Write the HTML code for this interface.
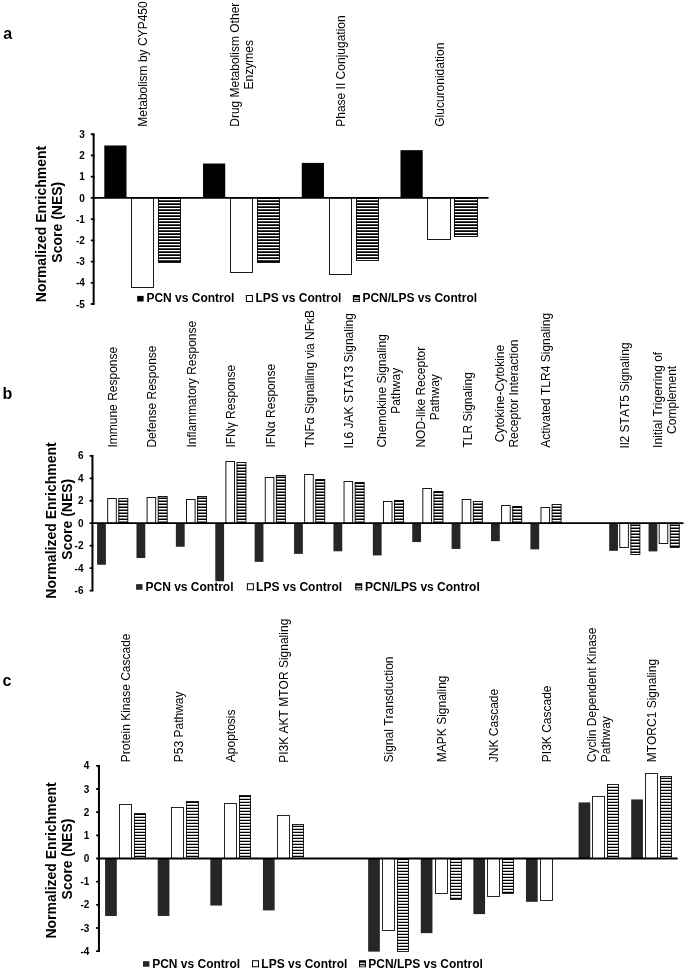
<!DOCTYPE html>
<html lang="en"><head><meta charset="utf-8"><title>Normalized Enrichment Score figure</title>
<style>html,body{margin:0;padding:0;background:#fff}svg{display:block}text{font-family:"Liberation Sans", sans-serif;fill:#000;font-kerning:none}.b{font-weight:bold}</style>
</head><body>
<svg width="685" height="971" viewBox="0 0 685 971">
<rect x="0" y="0" width="685" height="971" fill="#fff"/>
<g id="panel-a">
<text class="b" x="3.3" y="39" font-size="16">a</text>
<rect x="104.3" y="145.49" width="22.2" height="52.41" fill="#000000"/>
<rect x="131.5" y="197.9" width="22" height="89.6" fill="#fff" stroke="#000" stroke-width="0.9"/>
<rect x="158.5" y="197.9" width="22" height="64.6" fill="#fff"/>
<path d="M158.5 198.15h22M158.5 201.15h22M158.5 204.15h22M158.5 207.15h22M158.5 210.15h22M158.5 213.15h22M158.5 216.15h22M158.5 219.15h22M158.5 222.15h22M158.5 225.15h22M158.5 228.15h22M158.5 231.15h22M158.5 234.15h22M158.5 237.15h22M158.5 240.15h22M158.5 243.15h22M158.5 246.15h22M158.5 249.15h22M158.5 252.15h22M158.5 255.15h22M158.5 258.15h22M158.5 261.15h22" stroke="#000" stroke-width="1.75" fill="none"/>
<rect x="158.5" y="197.9" width="22" height="64.6" fill="none" stroke="#000" stroke-width="0.9"/>
<rect x="203.03" y="163.52" width="22.2" height="34.38" fill="#000000"/>
<rect x="230.5" y="197.9" width="22" height="74.6" fill="#fff" stroke="#000" stroke-width="0.9"/>
<rect x="257.5" y="197.9" width="22" height="64.6" fill="#fff"/>
<path d="M257.5 198.15h22M257.5 201.15h22M257.5 204.15h22M257.5 207.15h22M257.5 210.15h22M257.5 213.15h22M257.5 216.15h22M257.5 219.15h22M257.5 222.15h22M257.5 225.15h22M257.5 228.15h22M257.5 231.15h22M257.5 234.15h22M257.5 237.15h22M257.5 240.15h22M257.5 243.15h22M257.5 246.15h22M257.5 249.15h22M257.5 252.15h22M257.5 255.15h22M257.5 258.15h22M257.5 261.15h22" stroke="#000" stroke-width="1.75" fill="none"/>
<rect x="257.5" y="197.9" width="22" height="64.6" fill="none" stroke="#000" stroke-width="0.9"/>
<rect x="301.76" y="162.89" width="22.2" height="35.01" fill="#000000"/>
<rect x="329.5" y="197.9" width="22" height="76.6" fill="#fff" stroke="#000" stroke-width="0.9"/>
<rect x="356.5" y="197.9" width="22" height="62.6" fill="#fff"/>
<path d="M356.5 198.15h22M356.5 201.15h22M356.5 204.15h22M356.5 207.15h22M356.5 210.15h22M356.5 213.15h22M356.5 216.15h22M356.5 219.15h22M356.5 222.15h22M356.5 225.15h22M356.5 228.15h22M356.5 231.15h22M356.5 234.15h22M356.5 237.15h22M356.5 240.15h22M356.5 243.15h22M356.5 246.15h22M356.5 249.15h22M356.5 252.15h22M356.5 255.15h22M356.5 258.15h22" stroke="#000" stroke-width="1.75" fill="none"/>
<rect x="356.5" y="197.9" width="22" height="62.6" fill="none" stroke="#000" stroke-width="0.9"/>
<rect x="400.49" y="150.16" width="22.2" height="47.75" fill="#000000"/>
<rect x="427.5" y="197.9" width="23" height="41.6" fill="#fff" stroke="#000" stroke-width="0.9"/>
<rect x="454.5" y="197.9" width="23" height="38.6" fill="#fff"/>
<path d="M454.5 198.15h23M454.5 201.15h23M454.5 204.15h23M454.5 207.15h23M454.5 210.15h23M454.5 213.15h23M454.5 216.15h23M454.5 219.15h23M454.5 222.15h23M454.5 225.15h23M454.5 228.15h23M454.5 231.15h23M454.5 234.15h23" stroke="#000" stroke-width="1.75" fill="none"/>
<rect x="454.5" y="197.9" width="23" height="38.6" fill="none" stroke="#000" stroke-width="0.9"/>
<line x1="93.65" y1="134.24" x2="93.65" y2="304" stroke="#000" stroke-width="2" stroke-linecap="round"/>
<line x1="93.65" y1="197.9" x2="488.57" y2="197.9" stroke="#000" stroke-width="1.7"/>
<line x1="91.55" y1="304" x2="93.65" y2="304" stroke="#000" stroke-width="1.8" stroke-linecap="round"/>
<text class="b" x="84.85" y="307.6" font-size="10" text-anchor="end">-5</text>
<line x1="91.55" y1="282.78" x2="93.65" y2="282.78" stroke="#000" stroke-width="1.8" stroke-linecap="round"/>
<text class="b" x="84.85" y="286.38" font-size="10" text-anchor="end">-4</text>
<line x1="91.55" y1="261.56" x2="93.65" y2="261.56" stroke="#000" stroke-width="1.8" stroke-linecap="round"/>
<text class="b" x="84.85" y="265.16" font-size="10" text-anchor="end">-3</text>
<line x1="91.55" y1="240.34" x2="93.65" y2="240.34" stroke="#000" stroke-width="1.8" stroke-linecap="round"/>
<text class="b" x="84.85" y="243.94" font-size="10" text-anchor="end">-2</text>
<line x1="91.55" y1="219.12" x2="93.65" y2="219.12" stroke="#000" stroke-width="1.8" stroke-linecap="round"/>
<text class="b" x="84.85" y="222.72" font-size="10" text-anchor="end">-1</text>
<line x1="91.55" y1="197.9" x2="93.65" y2="197.9" stroke="#000" stroke-width="1.8" stroke-linecap="round"/>
<text class="b" x="84.85" y="201.5" font-size="10" text-anchor="end">0</text>
<line x1="91.55" y1="176.68" x2="93.65" y2="176.68" stroke="#000" stroke-width="1.8" stroke-linecap="round"/>
<text class="b" x="84.85" y="180.28" font-size="10" text-anchor="end">1</text>
<line x1="91.55" y1="155.46" x2="93.65" y2="155.46" stroke="#000" stroke-width="1.8" stroke-linecap="round"/>
<text class="b" x="84.85" y="159.06" font-size="10" text-anchor="end">2</text>
<line x1="91.55" y1="134.24" x2="93.65" y2="134.24" stroke="#000" stroke-width="1.8" stroke-linecap="round"/>
<text class="b" x="84.85" y="137.84" font-size="10" text-anchor="end">3</text>
<text class="b" transform="translate(46.3 224) rotate(-90)" font-size="14" text-anchor="middle">Normalized Enrichment</text>
<text class="b" transform="translate(62 222.2) rotate(-90)" font-size="14" text-anchor="middle">Score (NES)</text>
<text transform="translate(147.32 64.05) rotate(-90)" font-size="12" text-anchor="middle">Metabolism by CYP450</text>
<text transform="translate(239.05 64.73) rotate(-90)" font-size="12" text-anchor="middle">Drug Metabolism Other</text>
<text transform="translate(253.05 64.73) rotate(-90)" font-size="12" text-anchor="middle">Enzymes</text>
<text transform="translate(344.78 71.04) rotate(-90)" font-size="12" text-anchor="middle">Phase II Conjugation</text>
<text transform="translate(443.51 84.72) rotate(-90)" font-size="12" text-anchor="middle">Glucuronidation</text>
<rect x="137.2" y="295.9" width="6.4" height="5.6" fill="#000000"/>
<rect x="246.4" y="295.5" width="6" height="6" fill="#fff" stroke="#000" stroke-width="1"/>
<rect x="352.9" y="295" width="7" height="7" fill="#000"/>
<rect x="353.95" y="297.4" width="4.9" height="1.5" fill="#ddd"/>
<rect x="353.95" y="300.1" width="4.9" height="1.1" fill="#fff"/>
<text class="b" x="146.4" y="302.45" font-size="12">PCN vs Control</text>
<text class="b" x="255.4" y="302.45" font-size="12">LPS vs Control</text>
<text class="b" x="362.4" y="302.45" font-size="12">PCN/LPS vs Control</text>
</g>
<g id="panel-b">
<text class="b" x="2.6" y="398.8" font-size="16">b</text>
<rect x="97.1" y="523.2" width="8.8" height="41.55" fill="#262626"/>
<rect x="107.7" y="498.5" width="8.6" height="24.7" fill="#fff" stroke="#000" stroke-width="0.9"/>
<rect x="118.8" y="498.5" width="9" height="24.7" fill="#fff"/>
<path d="M118.8 501.15h9M118.8 504.15h9M118.8 507.15h9M118.8 510.15h9M118.8 513.15h9M118.8 516.15h9M118.8 519.15h9M118.8 522.15h9" stroke="#000" stroke-width="1.5" fill="none"/>
<rect x="118.8" y="498.5" width="9" height="24.7" fill="none" stroke="#000" stroke-width="0.9"/>
<rect x="136.49" y="523.2" width="8.8" height="34.81" fill="#262626"/>
<rect x="147.09" y="497.5" width="8.6" height="25.7" fill="#fff" stroke="#000" stroke-width="0.9"/>
<rect x="158.19" y="496.5" width="9" height="26.7" fill="#fff"/>
<path d="M158.19 498.15h9M158.19 501.15h9M158.19 504.15h9M158.19 507.15h9M158.19 510.15h9M158.19 513.15h9M158.19 516.15h9M158.19 519.15h9M158.19 522.15h9" stroke="#000" stroke-width="1.5" fill="none"/>
<rect x="158.19" y="496.5" width="9" height="26.7" fill="none" stroke="#000" stroke-width="0.9"/>
<rect x="175.88" y="523.2" width="8.8" height="23.58" fill="#262626"/>
<rect x="186.48" y="499.5" width="8.6" height="23.7" fill="#fff" stroke="#000" stroke-width="0.9"/>
<rect x="197.58" y="496.5" width="9" height="26.7" fill="#fff"/>
<path d="M197.58 498.15h9M197.58 501.15h9M197.58 504.15h9M197.58 507.15h9M197.58 510.15h9M197.58 513.15h9M197.58 516.15h9M197.58 519.15h9M197.58 522.15h9" stroke="#000" stroke-width="1.5" fill="none"/>
<rect x="197.58" y="496.5" width="9" height="26.7" fill="none" stroke="#000" stroke-width="0.9"/>
<rect x="215.27" y="523.2" width="8.8" height="58.06" fill="#262626"/>
<rect x="225.87" y="461.5" width="8.6" height="61.7" fill="#fff" stroke="#000" stroke-width="0.9"/>
<rect x="236.97" y="462.5" width="9" height="60.7" fill="#fff"/>
<path d="M236.97 465.15h9M236.97 468.15h9M236.97 471.15h9M236.97 474.15h9M236.97 477.15h9M236.97 480.15h9M236.97 483.15h9M236.97 486.15h9M236.97 489.15h9M236.97 492.15h9M236.97 495.15h9M236.97 498.15h9M236.97 501.15h9M236.97 504.15h9M236.97 507.15h9M236.97 510.15h9M236.97 513.15h9M236.97 516.15h9M236.97 519.15h9M236.97 522.15h9" stroke="#000" stroke-width="1.5" fill="none"/>
<rect x="236.97" y="462.5" width="9" height="60.7" fill="none" stroke="#000" stroke-width="0.9"/>
<rect x="254.66" y="523.2" width="8.8" height="38.63" fill="#262626"/>
<rect x="265.26" y="477.5" width="8.6" height="45.7" fill="#fff" stroke="#000" stroke-width="0.9"/>
<rect x="276.36" y="475.5" width="9" height="47.7" fill="#fff"/>
<path d="M276.36 477.15h9M276.36 480.15h9M276.36 483.15h9M276.36 486.15h9M276.36 489.15h9M276.36 492.15h9M276.36 495.15h9M276.36 498.15h9M276.36 501.15h9M276.36 504.15h9M276.36 507.15h9M276.36 510.15h9M276.36 513.15h9M276.36 516.15h9M276.36 519.15h9M276.36 522.15h9" stroke="#000" stroke-width="1.5" fill="none"/>
<rect x="276.36" y="475.5" width="9" height="47.7" fill="none" stroke="#000" stroke-width="0.9"/>
<rect x="294.05" y="523.2" width="8.8" height="30.66" fill="#262626"/>
<rect x="304.65" y="474.5" width="8.6" height="48.7" fill="#fff" stroke="#000" stroke-width="0.9"/>
<rect x="315.75" y="479.5" width="9" height="43.7" fill="#fff"/>
<path d="M315.75 480.15h9M315.75 483.15h9M315.75 486.15h9M315.75 489.15h9M315.75 492.15h9M315.75 495.15h9M315.75 498.15h9M315.75 501.15h9M315.75 504.15h9M315.75 507.15h9M315.75 510.15h9M315.75 513.15h9M315.75 516.15h9M315.75 519.15h9M315.75 522.15h9" stroke="#000" stroke-width="1.5" fill="none"/>
<rect x="315.75" y="479.5" width="9" height="43.7" fill="none" stroke="#000" stroke-width="0.9"/>
<rect x="333.44" y="523.2" width="8.8" height="28.08" fill="#262626"/>
<rect x="344.04" y="481.5" width="8.6" height="41.7" fill="#fff" stroke="#000" stroke-width="0.9"/>
<rect x="355.14" y="482.5" width="9" height="40.7" fill="#fff"/>
<path d="M355.14 483.15h9M355.14 486.15h9M355.14 489.15h9M355.14 492.15h9M355.14 495.15h9M355.14 498.15h9M355.14 501.15h9M355.14 504.15h9M355.14 507.15h9M355.14 510.15h9M355.14 513.15h9M355.14 516.15h9M355.14 519.15h9M355.14 522.15h9" stroke="#000" stroke-width="1.5" fill="none"/>
<rect x="355.14" y="482.5" width="9" height="40.7" fill="none" stroke="#000" stroke-width="0.9"/>
<rect x="372.83" y="523.2" width="8.8" height="32.23" fill="#262626"/>
<rect x="383.43" y="501.5" width="8.6" height="21.7" fill="#fff" stroke="#000" stroke-width="0.9"/>
<rect x="394.53" y="500.5" width="9" height="22.7" fill="#fff"/>
<path d="M394.53 501.15h9M394.53 504.15h9M394.53 507.15h9M394.53 510.15h9M394.53 513.15h9M394.53 516.15h9M394.53 519.15h9M394.53 522.15h9" stroke="#000" stroke-width="1.5" fill="none"/>
<rect x="394.53" y="500.5" width="9" height="22.7" fill="none" stroke="#000" stroke-width="0.9"/>
<rect x="412.22" y="523.2" width="8.8" height="18.87" fill="#262626"/>
<rect x="422.82" y="488.5" width="8.6" height="34.7" fill="#fff" stroke="#000" stroke-width="0.9"/>
<rect x="433.92" y="491.5" width="9" height="31.7" fill="#fff"/>
<path d="M433.92 492.15h9M433.92 495.15h9M433.92 498.15h9M433.92 501.15h9M433.92 504.15h9M433.92 507.15h9M433.92 510.15h9M433.92 513.15h9M433.92 516.15h9M433.92 519.15h9M433.92 522.15h9" stroke="#000" stroke-width="1.5" fill="none"/>
<rect x="433.92" y="491.5" width="9" height="31.7" fill="none" stroke="#000" stroke-width="0.9"/>
<rect x="451.61" y="523.2" width="8.8" height="25.72" fill="#262626"/>
<rect x="462.21" y="499.5" width="8.6" height="23.7" fill="#fff" stroke="#000" stroke-width="0.9"/>
<rect x="473.31" y="501.5" width="9" height="21.7" fill="#fff"/>
<path d="M473.31 504.15h9M473.31 507.15h9M473.31 510.15h9M473.31 513.15h9M473.31 516.15h9M473.31 519.15h9M473.31 522.15h9" stroke="#000" stroke-width="1.5" fill="none"/>
<rect x="473.31" y="501.5" width="9" height="21.7" fill="none" stroke="#000" stroke-width="0.9"/>
<rect x="491" y="523.2" width="8.8" height="17.97" fill="#262626"/>
<rect x="501.6" y="505.5" width="8.6" height="17.7" fill="#fff" stroke="#000" stroke-width="0.9"/>
<rect x="512.7" y="506.5" width="9" height="16.7" fill="#fff"/>
<path d="M512.7 507.15h9M512.7 510.15h9M512.7 513.15h9M512.7 516.15h9M512.7 519.15h9M512.7 522.15h9" stroke="#000" stroke-width="1.5" fill="none"/>
<rect x="512.7" y="506.5" width="9" height="16.7" fill="none" stroke="#000" stroke-width="0.9"/>
<rect x="530.39" y="523.2" width="8.8" height="26.17" fill="#262626"/>
<rect x="540.99" y="507.5" width="8.6" height="15.7" fill="#fff" stroke="#000" stroke-width="0.9"/>
<rect x="552.09" y="504.5" width="9" height="18.7" fill="#fff"/>
<path d="M552.09 507.15h9M552.09 510.15h9M552.09 513.15h9M552.09 516.15h9M552.09 519.15h9M552.09 522.15h9" stroke="#000" stroke-width="1.5" fill="none"/>
<rect x="552.09" y="504.5" width="9" height="18.7" fill="none" stroke="#000" stroke-width="0.9"/>
<rect x="609.17" y="523.2" width="8.8" height="27.63" fill="#262626"/>
<rect x="619.77" y="523.2" width="8.6" height="24.3" fill="#fff" stroke="#000" stroke-width="0.9"/>
<rect x="630.87" y="523.2" width="9" height="31.3" fill="#fff"/>
<path d="M630.87 525.15h9M630.87 528.15h9M630.87 531.15h9M630.87 534.15h9M630.87 537.15h9M630.87 540.15h9M630.87 543.15h9M630.87 546.15h9M630.87 549.15h9M630.87 552.15h9" stroke="#000" stroke-width="1.5" fill="none"/>
<rect x="630.87" y="523.2" width="9" height="31.3" fill="none" stroke="#000" stroke-width="0.9"/>
<rect x="648.56" y="523.2" width="8.8" height="28.19" fill="#262626"/>
<rect x="659.16" y="523.2" width="8.6" height="20.3" fill="#fff" stroke="#000" stroke-width="0.9"/>
<rect x="670.26" y="523.2" width="9" height="24.3" fill="#fff"/>
<path d="M670.26 525.15h9M670.26 528.15h9M670.26 531.15h9M670.26 534.15h9M670.26 537.15h9M670.26 540.15h9M670.26 543.15h9M670.26 546.15h9" stroke="#000" stroke-width="1.5" fill="none"/>
<rect x="670.26" y="523.2" width="9" height="24.3" fill="none" stroke="#000" stroke-width="0.9"/>
<line x1="92.45" y1="455.82" x2="92.45" y2="590.58" stroke="#000" stroke-width="2" stroke-linecap="round"/>
<line x1="92.45" y1="523.2" x2="683.5" y2="523.2" stroke="#000" stroke-width="1.8"/>
<line x1="90.35" y1="590.58" x2="92.45" y2="590.58" stroke="#000" stroke-width="1.8" stroke-linecap="round"/>
<text class="b" x="83.5" y="594.18" font-size="10" text-anchor="end">-6</text>
<line x1="90.35" y1="568.12" x2="92.45" y2="568.12" stroke="#000" stroke-width="1.8" stroke-linecap="round"/>
<text class="b" x="83.5" y="571.72" font-size="10" text-anchor="end">-4</text>
<line x1="90.35" y1="545.66" x2="92.45" y2="545.66" stroke="#000" stroke-width="1.8" stroke-linecap="round"/>
<text class="b" x="83.5" y="549.26" font-size="10" text-anchor="end">-2</text>
<line x1="90.35" y1="523.2" x2="92.45" y2="523.2" stroke="#000" stroke-width="1.8" stroke-linecap="round"/>
<text class="b" x="83.5" y="526.8" font-size="10" text-anchor="end">0</text>
<line x1="90.35" y1="500.74" x2="92.45" y2="500.74" stroke="#000" stroke-width="1.8" stroke-linecap="round"/>
<text class="b" x="83.5" y="504.34" font-size="10" text-anchor="end">2</text>
<line x1="90.35" y1="478.28" x2="92.45" y2="478.28" stroke="#000" stroke-width="1.8" stroke-linecap="round"/>
<text class="b" x="83.5" y="481.88" font-size="10" text-anchor="end">4</text>
<line x1="90.35" y1="455.82" x2="92.45" y2="455.82" stroke="#000" stroke-width="1.8" stroke-linecap="round"/>
<text class="b" x="83.5" y="459.42" font-size="10" text-anchor="end">6</text>
<text class="b" transform="translate(55.9 520.5) rotate(-90)" font-size="14" text-anchor="middle">Normalized Enrichment</text>
<text class="b" transform="translate(72 519.2) rotate(-90)" font-size="14" text-anchor="middle">Score (NES)</text>
<text transform="translate(117.05 397.19) rotate(-90)" font-size="12" text-anchor="middle">Immune Response</text>
<text transform="translate(156.44 396.52) rotate(-90)" font-size="12" text-anchor="middle">Defense Response</text>
<text transform="translate(195.82 384.19) rotate(-90)" font-size="12" text-anchor="middle">Inflammatory Response</text>
<text transform="translate(235.22 406.2) rotate(-90)" font-size="12" text-anchor="middle">IFNγ Response</text>
<text transform="translate(274.6 405.73) rotate(-90)" font-size="12" text-anchor="middle">IFNα Response</text>
<text transform="translate(314 378.73) rotate(-90)" font-size="12" text-anchor="middle">TNFα Signalling via NFκB</text>
<text transform="translate(353.39 380.74) rotate(-90)" font-size="12" text-anchor="middle">IL6 JAK STAT3 Signaling</text>
<text transform="translate(385.78 390.85) rotate(-90)" font-size="12" text-anchor="middle">Chemokine Signaling</text>
<text transform="translate(399.78 390.85) rotate(-90)" font-size="12" text-anchor="middle">Pathway</text>
<text transform="translate(425.17 397.2) rotate(-90)" font-size="12" text-anchor="middle">NOD-like Receptor</text>
<text transform="translate(439.17 397.2) rotate(-90)" font-size="12" text-anchor="middle">Pathway</text>
<text transform="translate(471.56 409.86) rotate(-90)" font-size="12" text-anchor="middle">TLR Signaling</text>
<text transform="translate(503.94 393.52) rotate(-90)" font-size="12" text-anchor="middle">Cytokine-Cytokine</text>
<text transform="translate(517.94 393.52) rotate(-90)" font-size="12" text-anchor="middle">Receptor Interaction</text>
<text transform="translate(550.34 380.29) rotate(-90)" font-size="12" text-anchor="middle">Activated TLR4 Signaling</text>
<text transform="translate(629.12 395.41) rotate(-90)" font-size="12" text-anchor="middle">Il2 STAT5 Signaling</text>
<text transform="translate(661.5 399.86) rotate(-90)" font-size="12" text-anchor="middle">Initial Trigerring of</text>
<text transform="translate(675.5 399.86) rotate(-90)" font-size="12" text-anchor="middle">Complement</text>
<rect x="136.1" y="584.15" width="6.4" height="5.6" fill="#262626"/>
<rect x="247.4" y="583.75" width="6" height="6" fill="#fff" stroke="#000" stroke-width="1"/>
<rect x="355.2" y="583.25" width="7" height="7" fill="#000"/>
<rect x="356.25" y="585.65" width="4.9" height="1.5" fill="#ddd"/>
<rect x="356.25" y="588.35" width="4.9" height="1.1" fill="#fff"/>
<text class="b" x="145.5" y="590.7" font-size="12">PCN vs Control</text>
<text class="b" x="256.1" y="590.7" font-size="12">LPS vs Control</text>
<text class="b" x="365.1" y="590.7" font-size="12">PCN/LPS vs Control</text>
</g>
<g id="panel-c">
<text class="b" x="2.5" y="685.7" font-size="16">c</text>
<rect x="105.1" y="858.5" width="11.7" height="57.46" fill="#262626"/>
<rect x="119.5" y="804.5" width="12" height="54" fill="#fff" stroke="#000" stroke-width="0.85"/>
<rect x="134.5" y="813.5" width="11" height="45" fill="#fff"/>
<path d="M134.5 814.45h11M134.5 817.45h11M134.5 820.45h11M134.5 823.45h11M134.5 826.45h11M134.5 829.45h11M134.5 832.45h11M134.5 835.45h11M134.5 838.45h11M134.5 841.45h11M134.5 844.45h11M134.5 847.45h11M134.5 850.45h11M134.5 853.45h11M134.5 856.45h11" stroke="#000" stroke-width="1.3" fill="none"/>
<rect x="134.5" y="813.5" width="11" height="45" fill="none" stroke="#000" stroke-width="0.85"/>
<rect x="157.71" y="858.5" width="11.7" height="57.46" fill="#262626"/>
<rect x="171.5" y="807.5" width="12" height="51" fill="#fff" stroke="#000" stroke-width="0.85"/>
<rect x="186.5" y="801.5" width="12" height="57" fill="#fff"/>
<path d="M186.5 802.45h12M186.5 805.45h12M186.5 808.45h12M186.5 811.45h12M186.5 814.45h12M186.5 817.45h12M186.5 820.45h12M186.5 823.45h12M186.5 826.45h12M186.5 829.45h12M186.5 832.45h12M186.5 835.45h12M186.5 838.45h12M186.5 841.45h12M186.5 844.45h12M186.5 847.45h12M186.5 850.45h12M186.5 853.45h12M186.5 856.45h12" stroke="#000" stroke-width="1.3" fill="none"/>
<rect x="186.5" y="801.5" width="12" height="57" fill="none" stroke="#000" stroke-width="0.85"/>
<rect x="210.32" y="858.5" width="11.7" height="47.04" fill="#262626"/>
<rect x="224.5" y="803.5" width="12" height="55" fill="#fff" stroke="#000" stroke-width="0.85"/>
<rect x="239.5" y="795.5" width="11" height="63" fill="#fff"/>
<path d="M239.5 796.45h11M239.5 799.45h11M239.5 802.45h11M239.5 805.45h11M239.5 808.45h11M239.5 811.45h11M239.5 814.45h11M239.5 817.45h11M239.5 820.45h11M239.5 823.45h11M239.5 826.45h11M239.5 829.45h11M239.5 832.45h11M239.5 835.45h11M239.5 838.45h11M239.5 841.45h11M239.5 844.45h11M239.5 847.45h11M239.5 850.45h11M239.5 853.45h11M239.5 856.45h11" stroke="#000" stroke-width="1.3" fill="none"/>
<rect x="239.5" y="795.5" width="11" height="63" fill="none" stroke="#000" stroke-width="0.85"/>
<rect x="262.93" y="858.5" width="11.7" height="51.9" fill="#262626"/>
<rect x="277.5" y="815.5" width="12" height="43" fill="#fff" stroke="#000" stroke-width="0.85"/>
<rect x="292.5" y="824.5" width="11" height="34" fill="#fff"/>
<path d="M292.5 826.45h11M292.5 829.45h11M292.5 832.45h11M292.5 835.45h11M292.5 838.45h11M292.5 841.45h11M292.5 844.45h11M292.5 847.45h11M292.5 850.45h11M292.5 853.45h11M292.5 856.45h11" stroke="#000" stroke-width="1.3" fill="none"/>
<rect x="292.5" y="824.5" width="11" height="34" fill="none" stroke="#000" stroke-width="0.85"/>
<rect x="368.15" y="858.5" width="11.7" height="93.14" fill="#262626"/>
<rect x="382.5" y="858.5" width="12" height="72" fill="#fff" stroke="#000" stroke-width="0.85"/>
<rect x="397.5" y="858.5" width="11" height="93" fill="#fff"/>
<path d="M397.5 859.45h11M397.5 862.45h11M397.5 865.45h11M397.5 868.45h11M397.5 871.45h11M397.5 874.45h11M397.5 877.45h11M397.5 880.45h11M397.5 883.45h11M397.5 886.45h11M397.5 889.45h11M397.5 892.45h11M397.5 895.45h11M397.5 898.45h11M397.5 901.45h11M397.5 904.45h11M397.5 907.45h11M397.5 910.45h11M397.5 913.45h11M397.5 916.45h11M397.5 919.45h11M397.5 922.45h11M397.5 925.45h11M397.5 928.45h11M397.5 931.45h11M397.5 934.45h11M397.5 937.45h11M397.5 940.45h11M397.5 943.45h11M397.5 946.45h11M397.5 949.45h11" stroke="#000" stroke-width="1.3" fill="none"/>
<rect x="397.5" y="858.5" width="11" height="93" fill="none" stroke="#000" stroke-width="0.85"/>
<rect x="420.76" y="858.5" width="11.7" height="74.61" fill="#262626"/>
<rect x="435.5" y="858.5" width="12" height="35" fill="#fff" stroke="#000" stroke-width="0.85"/>
<rect x="450.5" y="858.5" width="11" height="41" fill="#fff"/>
<path d="M450.5 859.45h11M450.5 862.45h11M450.5 865.45h11M450.5 868.45h11M450.5 871.45h11M450.5 874.45h11M450.5 877.45h11M450.5 880.45h11M450.5 883.45h11M450.5 886.45h11M450.5 889.45h11M450.5 892.45h11M450.5 895.45h11M450.5 898.45h11" stroke="#000" stroke-width="1.3" fill="none"/>
<rect x="450.5" y="858.5" width="11" height="41" fill="none" stroke="#000" stroke-width="0.85"/>
<rect x="473.37" y="858.5" width="11.7" height="55.61" fill="#262626"/>
<rect x="487.5" y="858.5" width="12" height="38" fill="#fff" stroke="#000" stroke-width="0.85"/>
<rect x="502.5" y="858.5" width="11" height="35" fill="#fff"/>
<path d="M502.5 859.45h11M502.5 862.45h11M502.5 865.45h11M502.5 868.45h11M502.5 871.45h11M502.5 874.45h11M502.5 877.45h11M502.5 880.45h11M502.5 883.45h11M502.5 886.45h11M502.5 889.45h11M502.5 892.45h11" stroke="#000" stroke-width="1.3" fill="none"/>
<rect x="502.5" y="858.5" width="11" height="35" fill="none" stroke="#000" stroke-width="0.85"/>
<rect x="525.98" y="858.5" width="11.7" height="43.33" fill="#262626"/>
<rect x="540.5" y="858.5" width="12" height="42" fill="#fff" stroke="#000" stroke-width="0.85"/>
<rect x="578.59" y="802.43" width="11.7" height="56.07" fill="#262626"/>
<rect x="592.5" y="796.5" width="12" height="62" fill="#fff" stroke="#000" stroke-width="0.85"/>
<rect x="607.5" y="784.5" width="11" height="74" fill="#fff"/>
<path d="M607.5 787.45h11M607.5 790.45h11M607.5 793.45h11M607.5 796.45h11M607.5 799.45h11M607.5 802.45h11M607.5 805.45h11M607.5 808.45h11M607.5 811.45h11M607.5 814.45h11M607.5 817.45h11M607.5 820.45h11M607.5 823.45h11M607.5 826.45h11M607.5 829.45h11M607.5 832.45h11M607.5 835.45h11M607.5 838.45h11M607.5 841.45h11M607.5 844.45h11M607.5 847.45h11M607.5 850.45h11M607.5 853.45h11M607.5 856.45h11" stroke="#000" stroke-width="1.3" fill="none"/>
<rect x="607.5" y="784.5" width="11" height="74" fill="none" stroke="#000" stroke-width="0.85"/>
<rect x="631.2" y="799.42" width="11.7" height="59.08" fill="#262626"/>
<rect x="645.5" y="773.5" width="12" height="85" fill="#fff" stroke="#000" stroke-width="0.85"/>
<rect x="660.5" y="776.5" width="11" height="82" fill="#fff"/>
<path d="M660.5 778.45h11M660.5 781.45h11M660.5 784.45h11M660.5 787.45h11M660.5 790.45h11M660.5 793.45h11M660.5 796.45h11M660.5 799.45h11M660.5 802.45h11M660.5 805.45h11M660.5 808.45h11M660.5 811.45h11M660.5 814.45h11M660.5 817.45h11M660.5 820.45h11M660.5 823.45h11M660.5 826.45h11M660.5 829.45h11M660.5 832.45h11M660.5 835.45h11M660.5 838.45h11M660.5 841.45h11M660.5 844.45h11M660.5 847.45h11M660.5 850.45h11M660.5 853.45h11M660.5 856.45h11" stroke="#000" stroke-width="1.3" fill="none"/>
<rect x="660.5" y="776.5" width="11" height="82" fill="none" stroke="#000" stroke-width="0.85"/>
<line x1="98.95" y1="765.82" x2="98.95" y2="951.18" stroke="#000" stroke-width="2" stroke-linecap="round"/>
<line x1="98.95" y1="858.5" x2="677.66" y2="858.5" stroke="#000" stroke-width="2"/>
<line x1="96.85" y1="951.18" x2="98.95" y2="951.18" stroke="#000" stroke-width="1.8" stroke-linecap="round"/>
<text class="b" x="89.4" y="954.78" font-size="10" text-anchor="end">-4</text>
<line x1="96.85" y1="928.01" x2="98.95" y2="928.01" stroke="#000" stroke-width="1.8" stroke-linecap="round"/>
<text class="b" x="89.4" y="931.61" font-size="10" text-anchor="end">-3</text>
<line x1="96.85" y1="904.84" x2="98.95" y2="904.84" stroke="#000" stroke-width="1.8" stroke-linecap="round"/>
<text class="b" x="89.4" y="908.44" font-size="10" text-anchor="end">-2</text>
<line x1="96.85" y1="881.67" x2="98.95" y2="881.67" stroke="#000" stroke-width="1.8" stroke-linecap="round"/>
<text class="b" x="89.4" y="885.27" font-size="10" text-anchor="end">-1</text>
<line x1="96.85" y1="858.5" x2="98.95" y2="858.5" stroke="#000" stroke-width="1.8" stroke-linecap="round"/>
<text class="b" x="89.4" y="862.1" font-size="10" text-anchor="end">0</text>
<line x1="96.85" y1="835.33" x2="98.95" y2="835.33" stroke="#000" stroke-width="1.8" stroke-linecap="round"/>
<text class="b" x="89.4" y="838.93" font-size="10" text-anchor="end">1</text>
<line x1="96.85" y1="812.16" x2="98.95" y2="812.16" stroke="#000" stroke-width="1.8" stroke-linecap="round"/>
<text class="b" x="89.4" y="815.76" font-size="10" text-anchor="end">2</text>
<line x1="96.85" y1="788.99" x2="98.95" y2="788.99" stroke="#000" stroke-width="1.8" stroke-linecap="round"/>
<text class="b" x="89.4" y="792.59" font-size="10" text-anchor="end">3</text>
<line x1="96.85" y1="765.82" x2="98.95" y2="765.82" stroke="#000" stroke-width="1.8" stroke-linecap="round"/>
<text class="b" x="89.4" y="769.42" font-size="10" text-anchor="end">4</text>
<text class="b" transform="translate(56.3 860.4) rotate(-90)" font-size="14" text-anchor="middle">Normalized Enrichment</text>
<text class="b" transform="translate(71.9 859) rotate(-90)" font-size="14" text-anchor="middle">Score (NES)</text>
<text transform="translate(129.95 697.83) rotate(-90)" font-size="12" text-anchor="middle">Protein Kinase Cascade</text>
<text transform="translate(182.56 726.84) rotate(-90)" font-size="12" text-anchor="middle">P53 Pathway</text>
<text transform="translate(235.18 735.85) rotate(-90)" font-size="12" text-anchor="middle">Apoptosis</text>
<text transform="translate(287.78 690.72) rotate(-90)" font-size="12" text-anchor="middle">PI3K AKT MTOR Signaling</text>
<text transform="translate(393 709.5) rotate(-90)" font-size="12" text-anchor="middle">Signal Transduction</text>
<text transform="translate(445.61 718.84) rotate(-90)" font-size="12" text-anchor="middle">MAPK Signaling</text>
<text transform="translate(498.22 725.52) rotate(-90)" font-size="12" text-anchor="middle">JNK Cascade</text>
<text transform="translate(550.84 723.84) rotate(-90)" font-size="12" text-anchor="middle">PI3K Cascade</text>
<text transform="translate(596.45 762.2) rotate(-90)" font-size="12">Cyclin Dependent Kinase</text>
<text transform="translate(610.45 762.2) rotate(-90)" font-size="12">Pathway</text>
<text transform="translate(656.06 710.62) rotate(-90)" font-size="12" text-anchor="middle">MTORC1 Signaling</text>
<rect x="143" y="961.15" width="6.4" height="5.6" fill="#262626"/>
<rect x="252.5" y="960.75" width="6" height="6" fill="#fff" stroke="#000" stroke-width="1"/>
<rect x="359" y="960.25" width="7" height="7" fill="#000"/>
<rect x="360.05" y="962.65" width="4.9" height="1.5" fill="#ddd"/>
<rect x="360.05" y="965.35" width="4.9" height="1.1" fill="#fff"/>
<text class="b" x="152.2" y="967.7" font-size="12">PCN vs Control</text>
<text class="b" x="261.3" y="967.7" font-size="12">LPS vs Control</text>
<text class="b" x="368.25" y="967.7" font-size="12">PCN/LPS vs Control</text>
</g>
</svg>
</body></html>
